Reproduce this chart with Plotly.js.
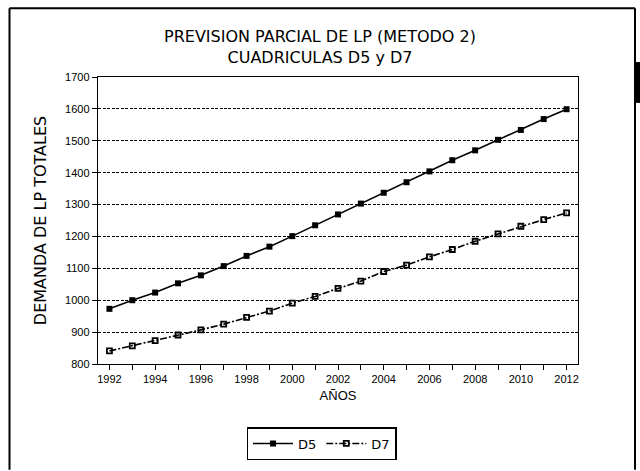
<!DOCTYPE html>
<html>
<head>
<meta charset="utf-8">
<script src="https://cdn.plot.ly/plotly-3.0.1.min.js"></script>
<style>
  html, body { margin: 0; padding: 0; background: #fff; }
  #chart { width: 640px; height: 471px; }
</style>
</head>
<body>
<div id="chart"></div>
<script>
// Años de la previsión
const years = [1992, 1993, 1994, 1995, 1996, 1997, 1998, 1999, 2000, 2001, 2002,
               2003, 2004, 2005, 2006, 2007, 2008, 2009, 2010, 2011, 2012];

// Demanda de LP totales por cuadrícula
const demandaD5 = [973, 1000, 1024, 1053, 1078, 1107, 1139, 1168, 1201, 1235, 1269,
                   1303, 1337, 1370, 1404, 1439, 1470, 1503, 1534, 1568, 1599];
const demandaD7 = [841, 857, 873, 891, 907, 925, 946, 966, 991, 1012, 1037,
                   1060, 1090, 1110, 1136, 1159, 1185, 1208, 1232, 1253, 1274];

const seriesNames = ['D5', 'D7'];

const FONT = 'Liberation Sans, Arial, sans-serif';
const WIDE = 'DejaVu Sans, Liberation Sans, sans-serif';

const traces = [
  {
    x: years, y: demandaD5, name: seriesNames[0],
    type: 'scatter', mode: 'lines+markers',
    line: { color: '#000', width: 1.6, dash: 'solid' },
    marker: { symbol: 'square', size: 6, color: '#000' }
  },
  {
    x: years, y: demandaD7, name: seriesNames[1],
    type: 'scatter', mode: 'lines+markers',
    line: { color: '#000', width: 1.6, dash: '7px,2px,2px,2px' },
    marker: { symbol: 'square-open', size: 5, color: '#000', line: { color: '#000', width: 1.8 } }
  }
];

// Coordenadas del marco exterior en fracciones del área de trazado
const L = 98, R = 578, T = 77, B = 365;
const px = v => (v - L) / (R - L);
const py = v => (B - v) / (B - T);

const layout = {
  width: 640, height: 471,
  margin: { l: L, r: 640 - R, t: T, b: 471 - B },
  paper_bgcolor: '#fff', plot_bgcolor: '#fff',
  font: { family: FONT, color: '#000', size: 11 },
  title: {
    text: 'PREVISION PARCIAL DE LP (METODO 2)<br>CUADRICULAS D5 y D7',
    font: { family: WIDE, size: 16, color: '#000' },
    x: 0.5, xref: 'container', xanchor: 'center',
    y: 1 - 42 / 471, yref: 'container', yanchor: 'middle'
  },
  xaxis: {
    range: [1991.5, 2012.5],
    tick0: 1992, dtick: 2,
    ticks: 'outside', ticklen: 5, tickwidth: 1, tickcolor: '#000',
    minor: { dtick: 1, tick0: 1992, ticks: 'outside', ticklen: 5, tickwidth: 1, tickcolor: '#000', showgrid: false },
    showgrid: false, zeroline: false,
    showline: true, linecolor: '#000', linewidth: 1.2, mirror: true,
    tickfont: { family: FONT, size: 11 },
    title: { text: 'AÑOS', font: { family: FONT, size: 13 }, standoff: 6 }
  },
  yaxis: {
    range: [800, 1700],
    tick0: 800, dtick: 100,
    ticks: 'outside', ticklen: 5, tickwidth: 1, tickcolor: '#000',
    showgrid: true, gridcolor: '#000', gridwidth: 1, griddash: '3px,1.5px',
    zeroline: false,
    showline: true, linecolor: '#000', linewidth: 1.2, mirror: true,
    tickfont: { family: FONT, size: 11 },
    title: { text: 'DEMANDA DE LP TOTALES', font: { family: WIDE, size: 16 }, standoff: 14 }
  },
  showlegend: true,
  legend: {
    orientation: 'h',
    x: px(321.5), xanchor: 'center',
    y: py(427), yanchor: 'top',
    bordercolor: '#000', borderwidth: 1.5,
    font: { family: WIDE, size: 13 },
    itemwidth: 40,
    tracegroupgap: 0
  },
  shapes: [
    // marco exterior
    { type: 'line', xref: 'paper', yref: 'paper', x0: px(9.5), x1: px(9.5), y0: py(8), y1: py(471), line: { color: '#000', width: 2 } },
    { type: 'line', xref: 'paper', yref: 'paper', x0: px(9.5), x1: px(635), y0: py(8), y1: py(8), line: { color: '#000', width: 2 } },
    { type: 'line', xref: 'paper', yref: 'paper', x0: px(635), x1: px(635), y0: py(8), y1: py(471), line: { color: '#000', width: 2 } },
    { type: 'rect', xref: 'paper', yref: 'paper', x0: px(635), x1: px(640), y0: py(103), y1: py(62), fillcolor: '#000', line: { width: 0 } }
  ]
};

Plotly.newPlot('chart', traces, layout, { displayModeBar: false, staticPlot: true });
</script>
</body>
</html>
